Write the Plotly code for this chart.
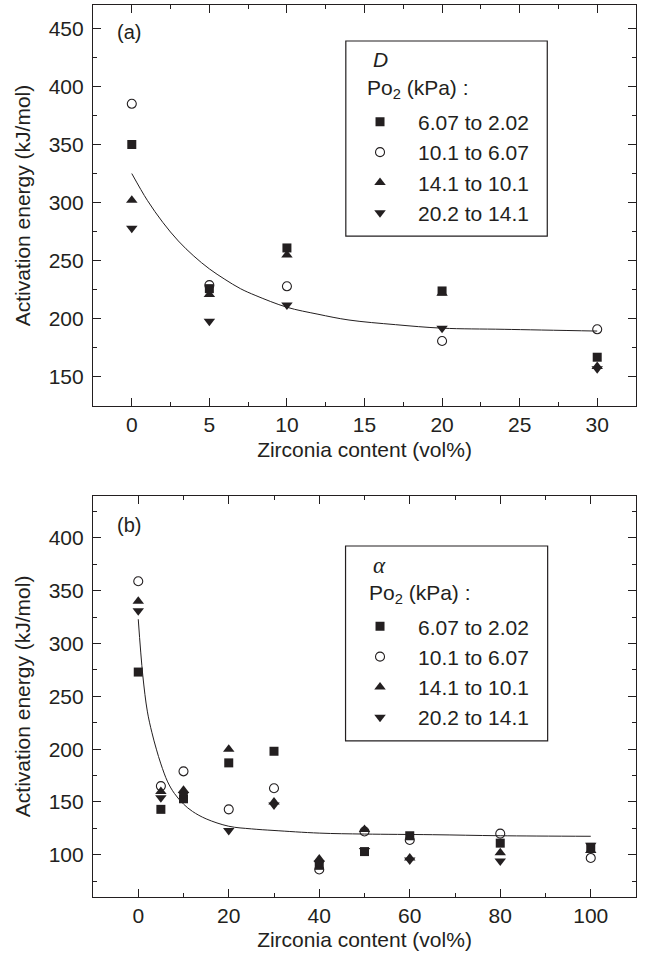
import plotly.graph_objects as go

# ---------------- data ----------------
# Panel (a): D
xa = [0, 5, 10, 20, 30]
a_sq = [350, 226, 261, 224, 167]      # 6.07 to 2.02
a_circ = [385, 229, 228, 181, 191]    # 10.1 to 6.07
a_up = [302, 221, 255, 222, 159]      # 14.1 to 10.1
a_down = [278, 198, 212, 192, 157]    # 20.2 to 14.1
xa_fit = [0, 1, 2, 3, 4, 5, 6, 7, 8, 10, 12, 14, 17, 20, 24, 30]
ya_fit = [325, 302, 283, 267, 254, 243, 234, 226, 220, 210, 204, 199, 195, 192, 191, 189.5]

# Panel (b): alpha
xb = [0, 5, 10, 20, 30, 40, 50, 60, 80, 100]
b_sq = [273, 143, 153, 187, 198, 90, 103, 118, 111, 107]
b_circ = [359, 165, 179, 143, 163, 86, 122, 114, 120, 97]
b_up = [340, 160, 161, 200, 150, 96, 124, 97, 102, 104]
b_down = [331, 154, 157, 123, 147, 92, 104, 95, 94, 109]
xb_fit = [0, 1, 2, 3, 4, 5, 6.5, 8, 10, 12, 15, 20, 25, 30, 40, 50, 65, 80, 100]
yb_fit = [323, 270, 236, 216, 200, 186, 169, 158, 148, 141, 134, 127, 124.5, 123, 120.5, 119.6, 119, 118, 117.5]

series_names = ["6.07 to 2.02", "10.1 to 6.07", "14.1 to 10.1", "20.2 to 14.1"]
x_title = "Zirconia content (vol%)"
y_title = "Activation energy (kJ/mol)"

# ---------------- style ----------------
INK = "#231f20"
FONT = "Liberation Sans, Arial, Helvetica, sans-serif"
symbols = [
    dict(symbol="square", size=9, color=INK, line=dict(width=0)),
    dict(symbol="circle-open", size=9, color=INK, line=dict(width=1.1, color=INK)),
    dict(symbol="triangle-up", size=10, color=INK, line=dict(width=0)),
    dict(symbol="triangle-down", size=10, color=INK, line=dict(width=0)),
]

fig = go.Figure()

# fitted curves
fig.add_trace(go.Scatter(x=xa_fit, y=ya_fit, mode="lines", line=dict(color=INK, width=1, shape="spline"),
                         showlegend=False, xaxis="x", yaxis="y"))
fig.add_trace(go.Scatter(x=xb_fit, y=yb_fit, mode="lines", line=dict(color=INK, width=1, shape="spline"),
                         showlegend=False, xaxis="x2", yaxis="y2"))

for name, ys, sym in zip(series_names, [a_sq, a_circ, a_up, a_down], symbols):
    fig.add_trace(go.Scatter(x=xa, y=ys, mode="markers", name=name, marker=sym,
                             xaxis="x", yaxis="y", legend="legend"))
for name, ys, sym in zip(series_names, [b_sq, b_circ, b_up, b_down], symbols):
    fig.add_trace(go.Scatter(x=xb, y=ys, mode="markers", name=name, marker=sym,
                             xaxis="x2", yaxis="y2", legend="legend2"))

axis_common = dict(
    showline=True, linecolor=INK, linewidth=1.2, mirror="allticks",
    ticks="inside", ticklen=8, tickwidth=1, tickcolor=INK,
    showgrid=False, zeroline=False,
    tickfont=dict(family=FONT, size=21, color=INK),
)
title_font = dict(family=FONT, size=21, color=INK)

fig.update_layout(
    width=652, height=959,
    margin=dict(l=93, r=16, t=5, b=62),
    paper_bgcolor="white", plot_bgcolor="white",
    font=dict(family=FONT, color=INK),
    xaxis=dict(domain=[0, 1], range=[-2.5, 32.5], anchor="y", tickvals=[0, 5, 10, 15, 20, 25, 30],
               minor=dict(ticks="inside", ticklen=4, dtick=2.5, tick0=0, tickcolor=INK, showgrid=False),
               title=dict(text=x_title, font=title_font, standoff=6), ticklabelstandoff=0,
               **axis_common),
    yaxis=dict(domain=[0.5504, 1], range=[125, 470], anchor="x", tickvals=[150, 200, 250, 300, 350, 400, 450],
               minor=dict(ticks="inside", ticklen=4, dtick=25, tick0=0, tickcolor=INK, showgrid=False),
               title=dict(text=y_title, font=title_font, standoff=12), ticklabelstandoff=4,
               **axis_common),
    xaxis2=dict(domain=[0, 1], range=[-10, 110], anchor="y2", tickvals=[0, 20, 40, 60, 80, 100],
                minor=dict(ticks="inside", ticklen=4, dtick=10, tick0=0, tickcolor=INK, showgrid=False),
                title=dict(text=x_title, font=title_font, standoff=6), ticklabelstandoff=0,
                **axis_common),
    yaxis2=dict(domain=[0, 0.4499], range=[60, 440], anchor="x2", tickvals=[100, 150, 200, 250, 300, 350, 400],
                minor=dict(ticks="inside", ticklen=4, dtick=25, tick0=0, tickcolor=INK, showgrid=False),
                title=dict(text=y_title, font=title_font, standoff=12), ticklabelstandoff=4,
                **axis_common),
    legend=dict(x=0.4586, y=0.8916, xanchor="left", yanchor="top", bgcolor="rgba(0,0,0,0)",
                borderwidth=0, itemwidth=66, tracegroupgap=0,
                font=dict(family=FONT, size=21, color=INK)),
    legend2=dict(x=0.4586, y=0.3260, xanchor="left", yanchor="top", bgcolor="rgba(0,0,0,0)",
                 borderwidth=0, itemwidth=66, tracegroupgap=0,
                 font=dict(family=FONT, size=21, color=INK)),
    shapes=[
        dict(type="rect", xref="x domain", yref="y domain", x0=0.4656, x1=0.8366, y0=0.4239, y1=0.9102,
             line=dict(color=INK, width=1.2), fillcolor="rgba(0,0,0,0)", layer="above"),
        dict(type="rect", xref="x2 domain", yref="y2 domain", x0=0.4651, x1=0.8373, y0=0.389, y1=0.8746,
             line=dict(color=INK, width=1.2), fillcolor="rgba(0,0,0,0)", layer="above"),
    ],
    annotations=[
        dict(text="(a)", xref="x domain", yref="y domain", x=0.040, y=0.9327, xanchor="left", yanchor="middle",
             showarrow=False, font=dict(family=FONT, size=20, color=INK)),
        dict(text="(b)", xref="x2 domain", yref="y2 domain", x=0.040, y=0.927, xanchor="left", yanchor="middle",
             showarrow=False, font=dict(family=FONT, size=20, color=INK)),
        dict(text="<i>D</i>", xref="x domain", yref="y domain", x=0.5117, y=0.8646, xanchor="left", yanchor="middle",
             showarrow=False, font=dict(family=FONT, size=21, color=INK)),
        dict(text="Po<sub>2</sub> (kPa) :", xref="x domain", yref="y domain", x=0.500, y=0.790,
             xanchor="left", yanchor="middle", showarrow=False, font=dict(family=FONT, size=21, color=INK)),
        dict(text="<i>α</i>", xref="x2 domain", yref="y2 domain", x=0.5117, y=0.8272, xanchor="left", yanchor="middle",
             showarrow=False, font=dict(family="Liberation Serif, DejaVu Serif, serif", size=23, color=INK)),
        dict(text="Po<sub>2</sub> (kPa) :", xref="x2 domain", yref="y2 domain", x=0.5038, y=0.754,
             xanchor="left", yanchor="middle", showarrow=False, font=dict(family=FONT, size=21, color=INK)),
    ],
)

fig.write_html("out.html", config={"displayModeBar": False},
               post_script="document.body.style.margin='0';")
